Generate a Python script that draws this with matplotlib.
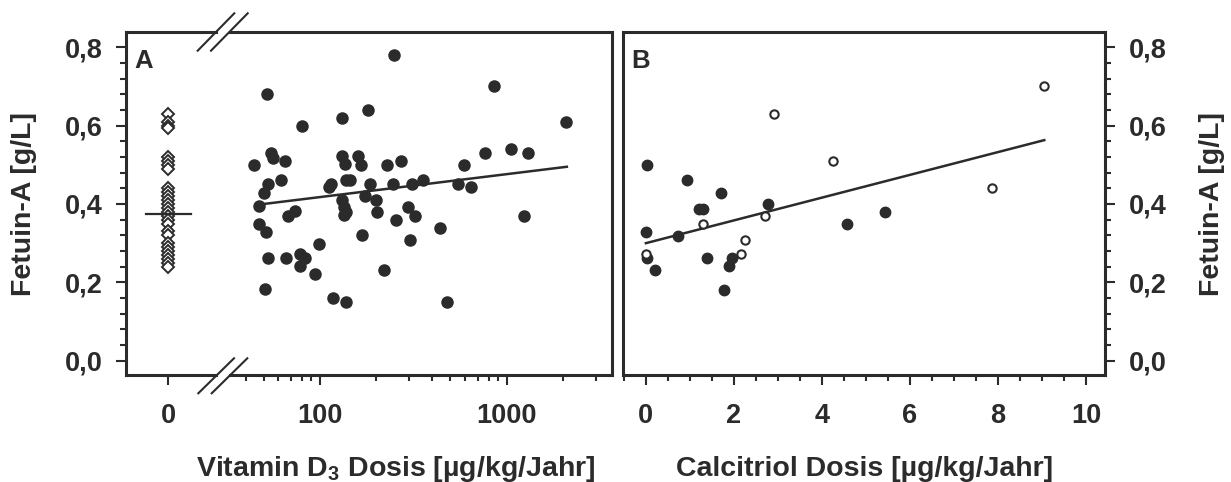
import matplotlib
matplotlib.use('Agg')
import matplotlib.pyplot as plt
import numpy as np
from matplotlib.lines import Line2D
from matplotlib.ticker import FixedLocator, MultipleLocator, LogLocator, NullFormatter, FuncFormatter

plt.rcParams['font.family'] = ['Liberation Sans', 'DejaVu Sans']
plt.rcParams['font.weight'] = 'bold'
plt.rcParams['mathtext.fontset'] = 'custom'
for k in ('rm', 'it', 'bf'):
    plt.rcParams['mathtext.' + k] = 'Liberation Sans:bold'

ink = '#2b2b2b'

# --- data ---
# controls without vitamin D (x = 0), open diamonds
ctrl_fetuin = [0.63, 0.61, 0.60, 0.595, 0.52, 0.51, 0.50, 0.49, 0.44, 0.43, 0.42,
               0.41, 0.40, 0.39, 0.38, 0.37, 0.36, 0.35, 0.33, 0.32, 0.30, 0.29,
               0.28, 0.27, 0.26, 0.25, 0.24]
ctrl_mean = 0.375

# panel A: vitamin D3 dose (log axis) vs fetuin-A
vitd_dose = [249, 52, 860, 181, 132, 80, 2070, 44.5, 54.5, 56.3, 65, 132, 136, 159,
             165, 228, 272, 593, 762, 1050, 1294, 52.7, 50.3, 61.6, 111.7, 115, 138,
             145, 186, 247, 310, 355, 546, 641, 46.9, 73.5, 67.6, 132, 135, 134, 138,
             174, 200, 201, 296, 323, 257, 439, 1238, 46.9, 51.7, 167, 303, 98.8,
             52.8, 65.8, 78, 83, 78, 94.4, 221, 50.7, 117.8, 137.7, 481]
vitd_fetuin = [0.78, 0.68, 0.70, 0.64, 0.62, 0.60, 0.61, 0.50, 0.53, 0.517, 0.511,
               0.522, 0.503, 0.522, 0.50, 0.50, 0.511, 0.50, 0.53, 0.541, 0.53, 0.452,
               0.429, 0.46, 0.443, 0.45, 0.46, 0.46, 0.45, 0.45, 0.45, 0.46, 0.45,
               0.443, 0.394, 0.382, 0.369, 0.409, 0.392, 0.371, 0.380, 0.421, 0.409,
               0.380, 0.392, 0.369, 0.358, 0.339, 0.369, 0.350, 0.329, 0.320, 0.309,
               0.299, 0.261, 0.261, 0.272, 0.261, 0.241, 0.221, 0.231, 0.182, 0.161,
               0.150, 0.150]
vitd_fit_x = [50, 2100]
vitd_fit_y = [0.40, 0.495]

# panel B: calcitriol dose vs fetuin-A
calc_dose_filled = [0.02, 0.94, 1.70, 1.21, 1.30, 2.78, 5.43, 0.0, 0.72, 4.58, 0.02,
                    0.21, 1.39, 1.95, 1.89, 1.78]
calc_fetuin_filled = [0.499, 0.46, 0.429, 0.388, 0.388, 0.399, 0.38, 0.329, 0.318,
                      0.35, 0.261, 0.231, 0.261, 0.261, 0.241, 0.18]
calc_dose_open = [2.92, 4.24, 1.29, 2.71, 2.26, 0.0, 2.16, 9.04, 7.86]
calc_fetuin_open = [0.629, 0.509, 0.35, 0.369, 0.309, 0.272, 0.272, 0.70, 0.441]
calc_fit_x = [0, 9.05]
calc_fit_y = [0.30, 0.563]

W, H = 1231, 482
fig = plt.figure(figsize=(W / 100, H / 100), dpi=100)


def rect(x0, x1, y0=32, y1=375):
    return [x0 / W, 1 - y1 / H, (x1 - x0) / W, (y1 - y0) / H]


ax0 = fig.add_axes(rect(126, 216))
ax1 = fig.add_axes(rect(230, 612))
axb = fig.add_axes(rect(623, 1105))

comma = FuncFormatter(lambda v, p: f"{v:.1f}".replace('.', ','))

for ax in (ax0, ax1, axb):
    ax.set_ylim(-0.0365, 0.839)
    for s in ax.spines.values():
        s.set_linewidth(2.2)
        s.set_color(ink)
    ax.tick_params(which='both', direction='out', color=ink, width=1.5,
                   labelsize=19.5, labelcolor=ink)
    ax.tick_params(which='major', length=7.5)
    ax.tick_params(which='minor', length=4.5)
    ax.tick_params(axis='x', pad=13)
    ax.yaxis.set_major_locator(MultipleLocator(0.2))
    ax.yaxis.set_minor_locator(MultipleLocator(0.04))
    ax.yaxis.set_major_formatter(comma)

# zero segment of panel A
ax0.spines['right'].set_visible(False)
ax0.set_xlim(-0.42, 0.48)
ax0.xaxis.set_major_locator(FixedLocator([0]))
ax0.set_xticklabels(['0'])
ax0.tick_params(axis='y', pad=9)
ax0.plot(np.zeros(len(ctrl_fetuin)), ctrl_fetuin, 'D', ms=6.3, mfc='white',
         mec=ink, mew=1.4, zorder=3)
ax0.plot([-0.225, 0.225], [ctrl_mean, ctrl_mean], color=ink, lw=1.6, zorder=4)
ax0.text(0.09, 0.95, 'A', transform=ax0.transAxes, fontsize=18.5, color=ink,
         va='top', ha='left')

# log segment of panel A
ax1.spines['left'].set_visible(False)
ax1.set_xscale('log')
ax1.set_xlim(33, 3665)
ax1.xaxis.set_major_locator(FixedLocator([100, 1000]))
ax1.xaxis.set_minor_locator(LogLocator(base=10, subs=np.arange(2, 10)))
ax1.xaxis.set_minor_formatter(NullFormatter())
ax1.set_xticklabels(['100', '1000'])
ax1.tick_params(axis='y', which='both', left=False, labelleft=False)
ax1.plot(vitd_dose, vitd_fetuin, 'o', ms=8, color=ink, zorder=3)
ax1.plot(vitd_fit_x, vitd_fit_y, color=ink, lw=1.8, zorder=2)

# panel B
axb.set_xlim(-0.52, 10.43)
axb.xaxis.set_major_locator(MultipleLocator(2))
axb.xaxis.set_minor_locator(MultipleLocator(0.5))
axb.yaxis.tick_right()
axb.tick_params(axis='y', pad=10)
axb.plot(calc_fit_x, calc_fit_y, color=ink, lw=1.8, zorder=2)
axb.plot(calc_dose_filled, calc_fetuin_filled, 'o', ms=7.5, color=ink, zorder=3)
axb.plot(calc_dose_open, calc_fetuin_open, 'o', ms=6, mfc='white', mec=ink,
         mew=1.5, zorder=4)
axb.text(0.018, 0.95, 'B', transform=axb.transAxes, fontsize=18.5, color=ink,
         va='top', ha='left')

# axis break marks
def px(x, y):
    return x / W, 1 - y / H

for (xa, ya, xb, yb) in [(197.7, 50.7, 234.3, 13.3), (211, 50.7, 247.7, 13.3),
                         (198.3, 393.3, 234, 358.3), (211.7, 393.3, 247.3, 358.3)]:
    p, q = px(xa, ya), px(xb, yb)
    fig.add_artist(Line2D([p[0], q[0]], [p[1], q[1]], color=ink, lw=1.5,
                          transform=fig.transFigure))

# axis labels
fig.text(*px(24, 204), 'Fetuin-A [g/L]', rotation=90, ha='center', va='center',
         fontsize=20.5, color=ink)
fig.text(*px(1212, 204), 'Fetuin-A [g/L]', rotation=90, ha='center', va='center',
         fontsize=20.5, color=ink)
fig.text(*px(396, 476), r'Vitamin D$_3$ Dosis [µg/kg/Jahr]', ha='center',
         va='baseline', fontsize=20.5, color=ink)
fig.text(*px(865, 476), 'Calcitriol Dosis [µg/kg/Jahr]', ha='center',
         va='baseline', fontsize=20.5, color=ink)

fig.savefig('out.png', dpi=100, facecolor='white')
